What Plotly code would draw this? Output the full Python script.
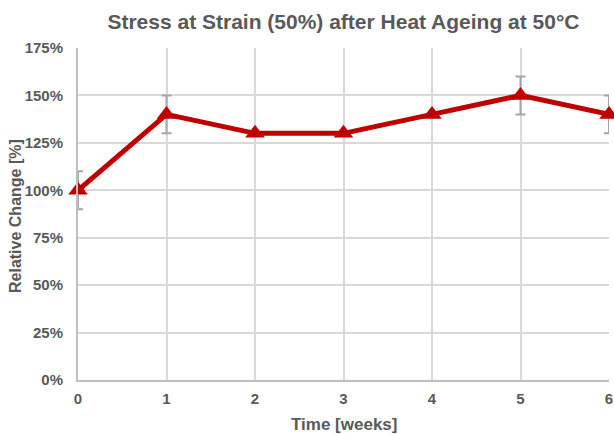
import plotly.graph_objects as go

weeks = [0, 1, 2, 3, 4, 5, 6]
relative_change = [100, 140, 130, 130, 140, 150, 140]
error = [10, 10, 0, 0, 0, 10, 10]
y_ticks = [0, 25, 50, 75, 100, 125, 150, 175]
y_tick_labels = [f"{v}%" for v in y_ticks]

FONT = "Liberation Sans, Arial, sans-serif"
GRAY = "#595959"

W, H = 614, 434
L, R, T, B = 78, 5, 48, 54
PW, PH = W - L - R, H - T - B

fig = go.Figure()
fig.add_trace(go.Scatter(
    x=weeks, y=relative_change,
    mode="lines+markers",
    line=dict(color="#c00000", width=5),
    marker=dict(symbol="triangle-up", size=17, color="#c00000"),
    error_y=dict(type="data", array=error, visible=True, color="#a6a6a6", thickness=2, width=5),
    cliponaxis=False,
    showlegend=False,
))

fig.update_layout(
    width=W, height=H,
    margin=dict(l=L, r=R, t=T, b=B, autoexpand=False),
    paper_bgcolor="white", plot_bgcolor="white",
    font=dict(family=FONT, color=GRAY, size=15),
    title=dict(text="<b>Stress at Strain (50%) after Heat Ageing at 50°C</b>",
               x=(L + W - R) / 2 / W, xanchor="center", y=1 - 22 / H, yanchor="middle",
               font=dict(size=21, color=GRAY, family=FONT)),
    xaxis=dict(
        range=[0, 6], tickmode="array", tickvals=weeks,
        ticktext=[f"<b>{w}</b>" for w in weeks],
        showgrid=True, gridcolor="#d9d9d9", gridwidth=2,
        showline=True, linecolor="#bfbfbf", linewidth=2,
        zeroline=False, ticks="", ticklabelstandoff=4, automargin=False,
        tickfont=dict(size=15, color=GRAY),
    ),
    yaxis=dict(
        range=[0, 175], tickmode="array", tickvals=y_ticks,
        ticktext=[f"<b>{t}</b>" for t in y_tick_labels],
        showgrid=True, gridcolor="#d9d9d9", gridwidth=2,
        showline=True, linecolor="#bfbfbf", linewidth=2,
        zeroline=False, ticks="", ticklabelstandoff=10, automargin=False,
        tickfont=dict(size=15, color=GRAY),
    ),
    annotations=[
        dict(text="<b>Time [weeks]</b>", xref="paper", yref="paper",
             x=0.5, y=(H - B - 425) / PH, xanchor="center", yanchor="middle",
             showarrow=False, font=dict(size=17, color=GRAY, family=FONT)),
        dict(text="<b>Relative Change [%]</b>", xref="paper", yref="paper",
             x=(15 - L) / PW, y=(H - B - 216) / PH, xanchor="center", yanchor="middle",
             textangle=-90, showarrow=False, font=dict(size=16, color=GRAY, family=FONT)),
    ],
)

fig.write_html("out.html", config={"displayModeBar": False},
               post_script="document.body.style.margin='0';document.body.style.overflow='hidden';")
